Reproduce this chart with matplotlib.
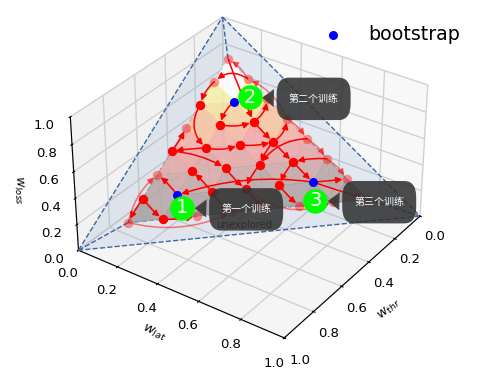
import numpy as np
import matplotlib
matplotlib.use("Agg")
import matplotlib.pyplot as plt
from matplotlib.colors import LinearSegmentedColormap
from matplotlib.patches import FancyArrowPatch
from mpl_toolkits.mplot3d import proj3d
from mpl_toolkits.mplot3d.art3d import Poly3DCollection

# weights on the simplex, (w_lat, w_thr); w_loss is what remains
solid_nodes = [(.1, .3), (.1, .5), (.1, .7), (.2, .4), (.2, .3), (.2, .5), (.2, .7),
               (.3, .2), (.3, .3), (.3, .4), (.3, .5), (.4, .2), (.4, .3), (.4, .4),
               (.5, .2), (.5, .3)]
light_nodes = [(.1, .1), (.2, .1), (.3, .1), (.4, .1), (.5, .1), (.6, .1), (.7, .1), (.8, .1),
               (.1, .2), (.1, .4), (.1, .6), (.1, .8), (.3, .6), (.4, .5), (.5, .4),
               (.6, .3), (.7, .2)]
all_lat = [.1, .1, .1, .1, .1, .1, .1, .1, .2, .2, .2, .2, .2, .2, .2, .3, .3, .3,
           .3, .3, .3, .4, .4, .4, .4, .4, .5, .5, .5, .5, .6, .6, .6, .7, .7, .8]
all_thr = [.1, .2, .3, .4, .5, .6, .7, .8, .1, .2, .3, .4, .5, .6, .7, .1, .2, .3,
           .4, .5, .6, .1, .2, .3, .4, .5, .1, .2, .3, .4, .1, .2, .3, .1, .2, .1]
bootstrap_lat = [.2, .2, .6]
bootstrap_thr = [.6, .2, .2]
badge_lat = [.239, .242, .641]
badge_thr = [.62, .145, .244]
badge_labels = ["1", "2", "3"]
box_labels = ["第一个训练", "第二个训练", "第三个训练"]
corner_lat = [1.0, 0.0, 0.0]
corner_thr = [0.0, 1.0, 0.0]
inner_lat = [.8, .1, .1]
inner_thr = [.1, .8, .1]
tick_values = [0.0, 0.2, 0.4, 0.6, 0.8, 1.0]

solid_from = [(.2, .1), (.1, .2), (.1, .3), (.2, .4), (.3, .3), (.4, .2), (.2, .2), (.2, .3),
              (.3, .2), (.1, .1), (.3, .2), (.4, .2), (.5, .2), (.4, .2), (.4, .3), (.1, .5),
              (.2, .4), (.1, .5), (.3, .5), (.6, .2), (.2, .6), (.1, .7), (.1, .7), (.2, .7),
              (.5, .2), (.5, .3), (.3, .4), (.4, .4), (.3, .5), (.6, .2), (.6, .2), (.6, .1),
              (.5, .1)]
solid_to = [(.1, .2), (.1, .3), (.2, .4), (.3, .3), (.4, .2), (.4, .1), (.2, .3), (.3, .2),
            (.3, .1), (.3, .2), (.4, .2), (.5, .2), (.6, .2), (.4, .3), (.4, .4), (.1, .4),
            (.1, .5), (.3, .4), (.2, .5), (.2, .6), (.1, .6), (.1, .8), (.2, .7), (.3, .6),
            (.5, .3), (.6, .3), (.4, .4), (.5, .4), (.4, .5), (.7, .1), (.8, .1), (.5, .2),
            (.4, .3)]
solid_bend = [.4, .15, .4, .15, .1, .25, .15, .15,
              .25, .02, .03, .03, .03, .1, .1, .05,
              .03, -.12, .08, .12, .08, .05, .08, .08,
              .1, .08, .08, .08, .08, .01, .01, .08,
              .25]

light_from = [(.4, .1), (.2, .1), (.4, .1), (.5, .1), (.6, .1), (.1, .8), (.1, .8), (.4, .4), (.6, .3)]
light_to = [(.2, .1), (.1, .1), (.5, .1), (.6, .1), (.7, .1), (.1, .6), (.4, .5), (.7, .2), (.7, .2)]
light_bend = [.2, .15, -.12, -.12, -.12, -.18, .18, .3, .1]


class Arrow3D(FancyArrowPatch):
    def __init__(self, start, end, **kwargs):
        super().__init__((0, 0), (0, 0), **kwargs)
        self.start = start
        self.end = end

    def do_3d_projection(self, renderer=None):
        x, y, z = proj3d.proj_transform(*zip(self.start, self.end), self.axes.get_proj())
        self.set_positions((x[0], y[0]), (x[1], y[1]))
        return np.min(z)


def to_xyz(lat, thr):
    # x holds w_thr and y holds w_lat, that is how the view is set up
    return thr, lat, 1.0 - lat - thr


def draw_edges(ax, starts, ends, bends, alpha, zorder):
    for start, end, bend in zip(starts, ends, bends):
        arrow = Arrow3D(to_xyz(*start), to_xyz(*end), color="red", alpha=alpha, lw=1.1,
                        arrowstyle="-|>", mutation_scale=9, shrinkA=0, shrinkB=3,
                        connectionstyle=f"arc3,rad={bend}", zorder=zorder)
        ax.add_artist(arrow)


def main():
    fig = plt.figure(figsize=(4.91, 3.76), dpi=100)
    ax = fig.add_axes([0.011, 0.085, 0.984, 0.91], projection="3d")
    ax.computed_zorder = False
    ax.set_box_aspect((4, 4, 2.5), zoom=1.1)
    ax.view_init(elev=32.5, azim=35)
    ax.set_xlim(0, 1)
    ax.set_ylim(0, 1)
    ax.set_zlim(0, 1)
    ax.set_xticks(tick_values)
    ax.set_yticks(tick_values)
    ax.set_zticks(tick_values)
    ax.tick_params(labelsize=9.5, pad=1)
    ax.set_xlabel(r"$w_{thr}$", fontsize=9.5, labelpad=0)
    ax.set_ylabel(r"$w_{lat}$", fontsize=9.5, labelpad=-1)
    ax.set_zlabel(r"$w_{loss}$", fontsize=9, labelpad=-1)
    for axis in (ax.xaxis, ax.yaxis, ax.zaxis):
        axis._axinfo["grid"]["color"] = "#d2d2d2"
        axis._axinfo["grid"]["linewidth"] = 1.0
        axis._axinfo["tick"]["inward_factor"] = 0.08
        axis._axinfo["tick"]["outward_factor"] = 0.06

    # outer simplex and the explored part inside it
    outer = [to_xyz(a, b) for a, b in zip(corner_lat, corner_thr)]
    inner = [to_xyz(a, b) for a, b in zip(inner_lat, inner_thr)]
    ax.add_collection3d(Poly3DCollection([outer], facecolor="#4a78b5", alpha=0.12, edgecolor="none", zorder=1))
    for i in range(3):
        for pair in ((outer[i], outer[(i + 1) % 3]), (inner[i], inner[(i + 1) % 3]), (outer[i], inner[i])):
            xs, ys, zs = zip(*pair)
            ax.plot(xs, ys, zs, ls="--", color="#3f66a3", lw=1, zorder=2)

    cmap = LinearSegmentedColormap.from_list(
        "explored", [(0, "#a5a0a0"), (.16, "#bfa8a8"), (.32, "#e0a8a8"), (.47, "#f5a8a8"),
                     (.63, "#f9c0a0"), (.79, "#f9e8a0"), (.895, "#f9f5a8"), (1, "#ffffff")])
    x, y, z = to_xyz(np.array(all_lat), np.array(all_thr))
    ax.plot_trisurf(x, y, z, cmap=cmap, alpha=0.85, linewidth=0, antialiased=False, shade=False, zorder=3)

    draw_edges(ax, light_from, light_to, light_bend, 0.5, 4)
    draw_edges(ax, solid_from, solid_to, solid_bend, 1.0, 5)

    x, y, z = to_xyz(*np.array(light_nodes).T)
    ax.scatter(x, y, z, s=46, color="red", alpha=0.4, depthshade=False, linewidth=0, zorder=6)
    x, y, z = to_xyz(*np.array(solid_nodes).T)
    ax.scatter(x, y, z, s=46, color="red", depthshade=False, linewidth=0, zorder=6)

    x, y, z = to_xyz(np.array(bootstrap_lat), np.array(bootstrap_thr))
    ax.scatter(x, y, z, s=42, color="blue", depthshade=False, linewidth=0, zorder=7, label="bootstrap")

    x, y, z = to_xyz(np.array(badge_lat), np.array(badge_thr))
    ax.scatter(x, y, z, s=310, color="#00ff00", depthshade=False, linewidth=0, zorder=8)

    ux, uy, uz = to_xyz(.463, .497)
    ax.text(ux, uy, uz, "unexplored", fontsize=7.2, color="black", ha="center", va="center", zorder=9)

    px, py, _ = proj3d.proj_transform(x, y, z, ax.get_proj())
    for i in range(3):
        ax.text2D(px[i], py[i], badge_labels[i], color="white", fontsize=14, ha="center", va="center", zorder=10)
        ax.annotate(box_labels[i], xy=(px[i], py[i]), xycoords="data", xytext=(28, -1),
                    textcoords="offset points", color="white", fontsize=7.2, va="center",
                    family=["Noto Sans CJK SC", "DejaVu Sans"], zorder=11,
                    bbox=dict(boxstyle="round,pad=1.2,rounding_size=1.2", fc="#333333", ec="none", alpha=0.88, mutation_aspect=1.35),
                    arrowprops=dict(arrowstyle="wedge,tail_width=1.8", fc="#333333", ec="none", alpha=0.88, shrinkB=9))

    ax.legend(loc="upper right", bbox_to_anchor=(0.957, 0.96), bbox_transform=fig.transFigure,
              frameon=False, fontsize=13.7, handletextpad=0.84, borderpad=0)

    fig.savefig("out.png", dpi=100)
    plt.close(fig)


if __name__ == "__main__":
    main()
